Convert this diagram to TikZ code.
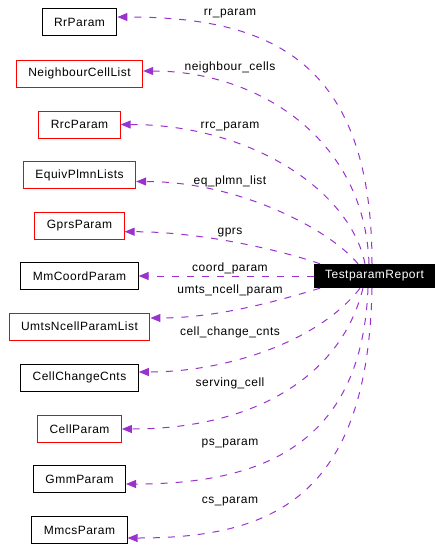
\documentclass[tikz,border=0pt]{standalone}
\usepackage{fontspec}
\setmainfont{Liberation Sans}[LetterSpace=4]
\usepackage{tikz}
\usetikzlibrary{arrows.meta}
\definecolor{usageedge}{RGB}{154,50,205}
\definecolor{redframe}{RGB}{255,0,0}

\tikzset{
  classbox/.style={draw=black,line width=1pt,inner xsep=12pt,inner ysep=0pt,
    minimum height=27pt,font=\fontsize{12}{14}\selectfont},
  redbox/.style={classbox,draw=redframe},
  mainbox/.style={fill=black,text=white,inner xsep=11pt,inner ysep=0pt,
    minimum height=24pt,font=\fontsize{12}{14}\selectfont},
  usage/.style={draw=usageedge,line width=1pt,dash pattern=on 7pt off 8pt,
    -{Triangle[length=10pt,width=8pt]}},
  edgelabel/.style={anchor=base,inner sep=0pt,font=\fontsize{12}{14}\selectfont}
}

\begin{document}
\begin{tikzpicture}[x=1pt,y=-1pt]
    \useasboundingbox (0,0) rectangle (443,560);
    % classes used by the report
    \node[classbox] (rr) at (79.5,22) {RrParam};
    \node[redbox] (nb) at (79.5,73.5) {NeighbourCellList};
    \node[redbox] (rrc) at (79.5,124.5) {RrcParam};
    \node[redbox] (eq) at (79.5,175) {EquivPlmnLists};
    \node[redbox] (gprs) at (79.5,225.7) {GprsParam};
    \node[classbox] (mmc) at (79.5,276) {MmCoordParam};
    \node[redbox] (umts) at (79.5,326.5) {UmtsNcellParamList};
    \node[classbox] (ccc) at (79.5,377.5) {CellChangeCnts};
    \node[redbox] (cell) at (79.5,429) {CellParam};
    \node[classbox] (gmm) at (79.5,479) {GmmParam};
    \node[classbox] (mmcs) at (79.5,530) {MmcsParam};
    \node[mainbox] (rep) at (374.5,276) {TestparamReport};

    % usage edges
    \draw[usage] ([xshift=-2.5pt]rep.north) .. controls +(0,-204) and +(152,0) .. ([yshift=5pt]rr.east);
    \draw[usage] ([xshift=-5.5pt]rep.north) .. controls +(-4,-124) and +(116,0) .. ([yshift=2.5pt]nb.east);
    \draw[usage] ([xshift=-9.5pt]rep.north) .. controls +(-15,-74) and +(129,0) .. (rrc.east);
    \draw[usage] ([xshift=-16.5pt]rep.north) .. controls +(-28,-34) and +(103,0) .. ([yshift=-6.5pt]eq.east);
    \draw[usage] ([xshift=-54.5pt]rep.north) .. controls +(-40,-14) and +(75,0) .. ([yshift=-6pt]gprs.east);
    \draw[usage] (rep.west) -- (mmc.east);
    \draw[usage] ([xshift=-54.5pt]rep.south) .. controls +(-40,12) and +(68,0) .. ([yshift=8.5pt]umts.east);
    \draw[usage] ([xshift=-14.5pt]rep.south) .. controls +(-40,52) and +(90,0) .. ([yshift=5.5pt]ccc.east);
    \draw[usage] ([xshift=-11.5pt]rep.south) .. controls +(-23,92) and +(127,0) .. (cell.east);
    \draw[usage] ([xshift=-6.5pt]rep.south) .. controls +(-6,152) and +(142,0) .. ([yshift=-5pt]gmm.east);
    \draw[usage] ([xshift=-2.5pt]rep.south) .. controls +(-4,212) and +(142,0) .. ([yshift=-8pt]mmcs.east);

    % edge labels
    \node[edgelabel] (lrr) at (230,15) {rr\_param};
    \node[edgelabel] (lnb) at (230,70.7) {neighbour\_cells};
    \node[edgelabel] (lrrc) at (230,128) {rrc\_param};
    \node[edgelabel] (leq) at (230,184) {eq\_plmn\_list};
    \node[edgelabel] (lgprs) at (230,234) {gprs};
    \node[edgelabel] (lmmc) at (230,271.7) {coord\_param};
    \node[edgelabel] (lumts) at (230,293) {umts\_ncell\_param};
    \node[edgelabel] (lccc) at (230,335) {cell\_change\_cnts};
    \node[edgelabel] (lcell) at (230,386.7) {serving\_cell};
    \node[edgelabel] (lgmm) at (230,445) {ps\_param};
    \node[edgelabel] (lmmcs) at (230,503) {cs\_param};
\end{tikzpicture}
\end{document}
